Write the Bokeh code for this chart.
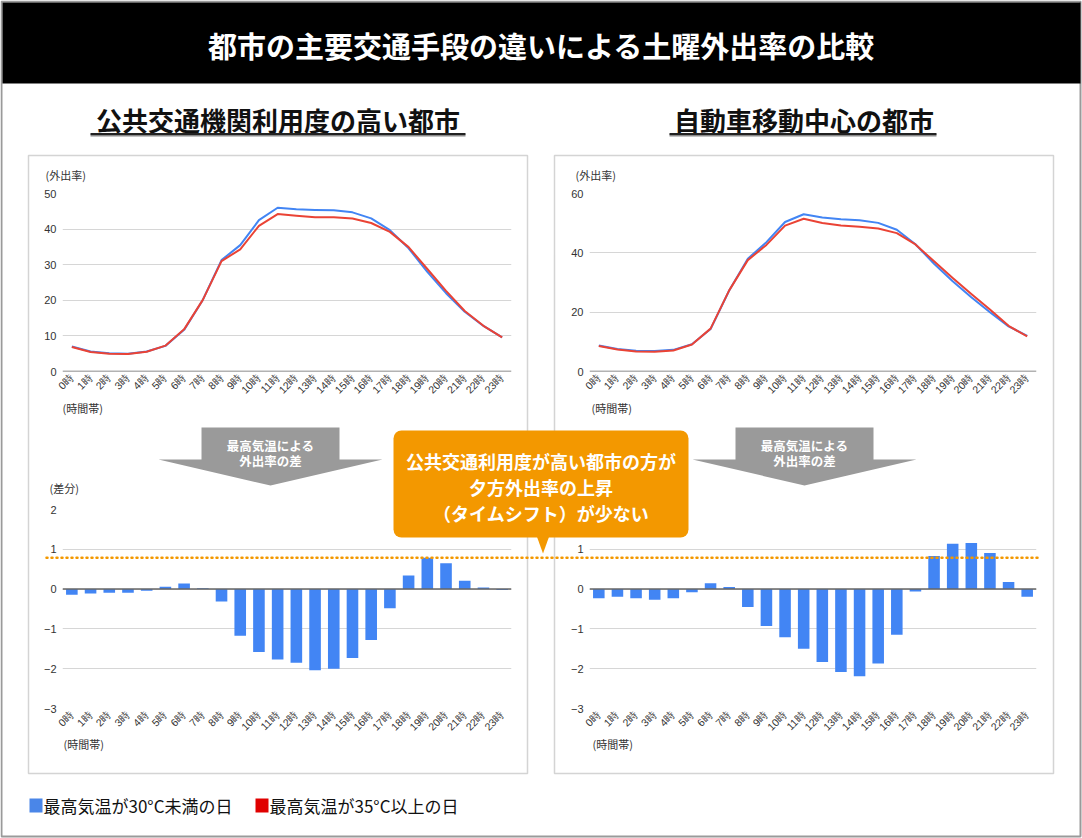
import math
from bokeh.plotting import figure
from bokeh.models import Range1d, FactorRange, FixedTicker, Span
from bokeh.layouts import column
from bokeh.embed import file_html
from bokeh.resources import INLINE
from bokeh.core.properties import value

W, H = 1082, 838
JP = "Noto Sans CJK JP"
LAT = "Liberation Sans"

# ---------------- data ----------------
hours = ["0時", "1時", "2時", "3時", "4時", "5時", "6時", "7時", "8時", "9時", "10時", "11時",
         "12時", "13時", "14時", "15時", "16時", "17時", "18時", "19時", "20時", "21時", "22時", "23時"]

transit_cool = [7.0, 5.6, 5.1, 5.0, 5.6, 7.2, 11.7, 20.1, 31.3, 35.5, 42.5, 46.0,
                45.6, 45.4, 45.3, 44.7, 43.0, 39.7, 34.6, 28.0, 22.0, 16.8, 12.8, 9.6]
transit_hot = [6.86, 5.49, 5.01, 4.91, 5.56, 7.26, 11.84, 20.12, 30.99, 34.33, 40.92, 44.23,
               43.75, 43.36, 43.30, 42.97, 41.72, 39.22, 34.94, 28.79, 22.65, 17.01, 12.84, 9.58]
transit_diff = [-0.14, -0.11, -0.09, -0.09, -0.04, 0.06, 0.14, 0.02, -0.31, -1.17, -1.58, -1.77,
                -1.85, -2.04, -2.00, -1.73, -1.28, -0.48, 0.34, 0.79, 0.65, 0.21, 0.04, -0.02]

car_cool = [8.8, 7.6, 7.0, 6.9, 7.3, 9.2, 14.3, 27.3, 38.0, 43.6, 50.4, 53.0,
            51.9, 51.3, 51.0, 50.1, 47.8, 42.9, 36.3, 30.4, 25.0, 20.0, 15.2, 12.0]
car_hot = [8.57, 7.41, 6.77, 6.63, 7.07, 9.12, 14.45, 27.35, 37.55, 42.67, 49.19, 51.50,
           50.07, 49.22, 48.81, 48.23, 46.65, 42.84, 37.13, 31.54, 26.16, 20.91, 15.38, 11.81]
car_diff = [-0.23, -0.19, -0.23, -0.27, -0.23, -0.08, 0.15, 0.05, -0.45, -0.93, -1.21, -1.50,
            -1.83, -2.08, -2.19, -1.87, -1.15, -0.06, 0.83, 1.14, 1.16, 0.91, 0.18, -0.19]

rate_ticks_transit = [0, 10, 20, 30, 40, 50]
rate_ticks_car = [0, 20, 40, 60]
diff_ticks = [-3, -2, -1, 0, 1, 2]

title_text = "都市の主要交通手段の違いによる土曜外出率の比較"
heading_left = "公共交通機関利用度の高い都市"
heading_right = "自動車移動中心の都市"
legend_labels = ["最高気温が30°C未満の日", "最高気温が35°C以上の日"]
arrow_text = ["最高気温による", "外出率の差"]
callout_text = ["公共交通利用度が高い都市の方が", "夕方外出率の上昇", "（タイムシフト）が少ない"]

BLUE = "#4285F4"
RED = "#EA4335"
ORANGE = "#F39800"

# ---------------- geometry ----------------
ML, MR, MT, MB = 32, 10, 12, 34
TOP_FRAME_Y = (193, 371)
BOT_FRAME_Y = (509, 708)
LEFT_FRAME_X = (62, 511)
RIGHT_FRAME_X = (589, 1036)


def placed(fig, left, top):
    # each figure sits in its own wrapper so that no frame alignment happens between them
    return column(fig, styles={"position": "absolute", "left": f"{left}px", "top": f"{top}px"})


def chart(fx, fy, yr, ticks):
    fl, fr = fx
    ft, fb = fy
    p = figure(width=(fr - fl) + ML + MR, height=(fb - ft) + MT + MB,
               x_range=FactorRange(*hours), y_range=Range1d(*yr),
               output_backend="svg", toolbar_location=None,
               min_border_left=ML, min_border_right=MR, min_border_top=MT, min_border_bottom=MB,
               background_fill_color=None, border_fill_color=None, outline_line_color=None)
    p.xgrid.grid_line_color = None
    p.ygrid.grid_line_color = "#d6d6d6"
    p.ygrid.grid_line_width = 1
    p.yaxis.ticker = FixedTicker(ticks=ticks)
    for ax in (p.xaxis[0], p.yaxis[0]):
        ax.axis_line_color = None
        ax.major_tick_line_color = None
        ax.minor_tick_line_color = None
        ax.major_tick_out = 0
        ax.major_tick_in = 0
        ax.minor_tick_out = 0
        ax.major_label_text_font = LAT
        ax.major_label_text_color = "#333333"
    p.yaxis.major_label_text_font_size = "11px"
    p.yaxis.major_label_standoff = 6
    p.xaxis.major_label_text_font_size = "10.5px"
    p.xaxis.major_label_orientation = math.pi / 4
    p.xaxis.major_label_standoff = 4
    return placed(p, fl - ML, ft - MT), p


def line_chart(fx, cool, hot, yr, ticks):
    w, p = chart(fx, TOP_FRAME_Y, yr, ticks)
    p.line(x=hours, y=cool, line_color=BLUE, line_width=2, line_join="round")
    p.line(x=hours, y=hot, line_color=RED, line_width=2, line_join="round")
    p.add_layout(Span(location=0, dimension="width", line_color="#666666", line_width=1.5))
    return w


def bar_chart(fx, diff):
    w, p = chart(fx, BOT_FRAME_Y, (-3, 2), diff_ticks)
    p.vbar(x=hours, top=diff, bottom=0, width=0.62, fill_color=BLUE, line_color=None)
    p.add_layout(Span(location=0, dimension="width", line_color="#666666", line_width=1.5))
    return w


c1 = line_chart(LEFT_FRAME_X, transit_cool, transit_hot, (0, 50), rate_ticks_transit)
c2 = line_chart(RIGHT_FRAME_X, car_cool, car_hot, (0, 60), rate_ticks_car)
c3 = bar_chart(LEFT_FRAME_X, transit_diff)
c4 = bar_chart(RIGHT_FRAME_X, car_diff)


def page_fig(fill):
    f = figure(width=W, height=H, x_range=Range1d(0, W), y_range=Range1d(H, 0),
               x_axis_type=None, y_axis_type=None, output_backend="svg", toolbar_location=None,
               min_border=0, outline_line_color=None, background_fill_color=fill,
               border_fill_color=None)
    f.grid.visible = False
    return f


# ---------------- background ----------------
bg = page_fig("white")
bg.quad(left=[1], right=[1080], top=[1], bottom=[836], fill_color=None,
        line_color="#9a9a9a", line_width=2)
bg.quad(left=[2], right=[1080], top=[2], bottom=[83], fill_color="black", line_color=None)
bg.text(x=[541], y=[44], text=[title_text], text_font=value(JP), text_font_size="29px",
        text_font_style="bold", text_color="white", text_align="center", text_baseline="middle")

bg.text(x=[277.5, 803.5], y=[119, 119], text=[heading_left, heading_right], text_font=value(JP),
        text_font_size="26px", text_font_style="bold", text_color="#111111",
        text_align="center", text_baseline="middle")
bg.segment(x0=[90, 669], y0=[135, 135], x1=[465, 936], y1=[135, 135],
           line_color="#8a8a8a", line_width=2)
bg.segment(x0=[90, 669], y0=[133.5, 133.5], x1=[465, 936], y1=[133.5, 133.5],
           line_color="#222222", line_width=2)

bg.quad(left=[28, 554], right=[527, 1053], top=[155, 155], bottom=[773, 773],
        fill_color=None, line_color="#d4d4d4", line_width=1.5)

bg.text(x=[45, 575, 49, 578], y=[174, 174, 487, 487],
        text=["(外出率)", "(外出率)", "(差分)", "(差分)"], text_font=value(JP),
        text_font_size="11px", text_color="#333333", text_align="left", text_baseline="middle")
bg.text(x=[62, 591, 63, 592], y=[407, 407, 743, 743],
        text=["(時間帯)"] * 4, text_font=value(JP),
        text_font_size="11px", text_color="#333333", text_align="left", text_baseline="middle")

bg.quad(left=[29, 255], right=[42, 268], top=[798, 798], bottom=[812, 812],
        fill_color=["#4A86E8", "#E00000"], line_color=None)
bg.text(x=[43, 269], y=[805, 805], text=legend_labels, text_font=value(JP),
        text_font_size="17px", text_color="#111111", text_align="left", text_baseline="middle")

# ---------------- overlay ----------------
ov = page_fig(None)

for cx in (270, 804):
    ov.patch(x=[cx - 69, cx + 69, cx + 69, cx + 112, cx, cx - 112, cx - 69],
             y=[427, 427, 459, 459, 485, 459, 459], fill_color="#9a9a9a", line_color=None)
    ov.text(x=[cx, cx], y=[445, 460], text=arrow_text, text_font=value(JP),
            text_font_size="12.5px", text_font_style="bold", text_color="white",
            text_align="center", text_baseline="middle")

# orange dotted line at the peak of the transit-city difference
peak = max(transit_diff)
y_peak = BOT_FRAME_Y[0] + (2 - peak) * (BOT_FRAME_Y[1] - BOT_FRAME_Y[0]) / 5
ov.line(x=[46, 1037], y=[y_peak, y_peak], line_color=ORANGE, line_width=2.5,
        line_dash="1 4", line_cap="round")

ov.quad(left=[393], right=[688], top=[430], bottom=[537], fill_color=ORANGE,
        line_color=None, border_radius=8)
ov.patch(x=[536, 549, 542.5], y=[535, 535, 553], fill_color=ORANGE, line_color=None)
ov.text(x=[540.5] * 3, y=[460, 486, 512], text=callout_text, text_font=value(JP),
        text_font_size="18px", text_font_style="bold", text_color="white",
        text_align="center", text_baseline="middle")

root = column(placed(bg, 0, 0), c1, c2, c3, c4, placed(ov, 0, 0))
root.styles = {"position": "relative", "width": f"{W}px", "height": f"{H}px",
               "overflow": "hidden"}

open("out.html", "w").write(file_html(root, INLINE))
